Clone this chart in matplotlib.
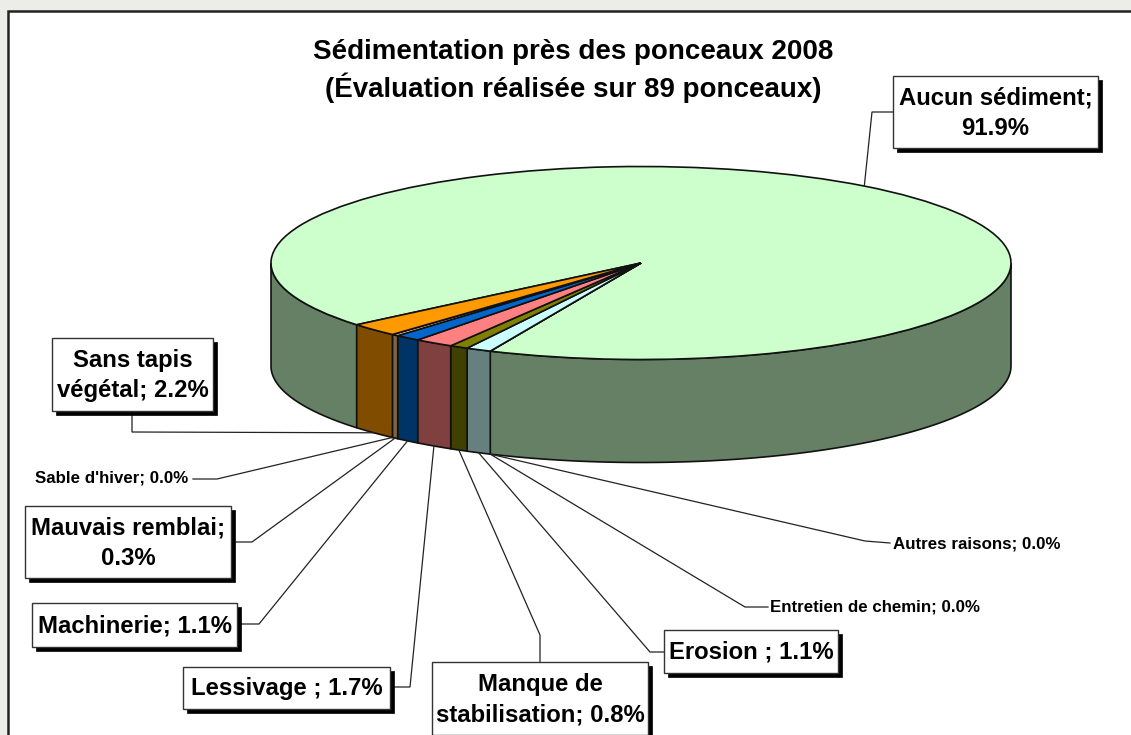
import matplotlib

matplotlib.use("Agg")
import matplotlib.pyplot as plt
import numpy as np
from matplotlib.patches import Rectangle

W, H = 1131, 735

# clockwise from the big slice
names = ["Aucun sédiment", "Autres raisons", "Entretien de chemin", "Erosion ",
         "Manque de stabilisation", "Lessivage ", "Machinerie", "Mauvais remblai",
         "Sable d'hiver", "Sans tapis végétal"]
values = [91.9, 0.0, 0.0, 1.1, 0.8, 1.7, 1.1, 0.3, 0.0, 2.2]
top_colors = ["#CCFFCC", "#CCFFFF", "#CCFFFF", "#CCFFFF", "#808000", "#FF8080",
              "#0066CC", "#FFCC99", "#FFCC99", "#FF9900"]
side_colors = ["#668066", "#668080", "#668080", "#668080", "#404000", "#804040",
               "#003366", "#806640", "#806640", "#804D00"]
title = "Sédimentation près des ponceaux 2008\n(Évaluation réalisée sur 89 ponceaux)"

# pie geometry in pixels
cx, cy, rx, ry, depth = 641, 263, 370, 96.5, 103
start = 50.2  # degrees clockwise from the bottom of the ellipse

fracs = np.array(values) / sum(values) * 360
edges = start + np.concatenate([[0], np.cumsum(fracs)])

fig = plt.figure(figsize=(W / 100, H / 100), dpi=100, facecolor="#ECEDE8")
plt.rcParams["font.family"] = ["Liberation Sans", "DejaVu Sans"]

# page frame
back = fig.add_axes([0, 0, 1, 1], zorder=0)
back.set_xlim(0, W)
back.set_ylim(H, 0)
back.axis("off")
back.add_patch(Rectangle((8, 11), 1140, 740, fc="white", ec="#222222", lw=1.8))

pie_ax = fig.add_axes(
    [(cx - rx) / W, 1 - (cy + ry) / H, 2 * rx / W, 2 * ry / H], zorder=1
)
pie_ax.pie(
    values,
    colors=top_colors,
    startangle=270 - start,
    counterclock=False,
    wedgeprops={"edgecolor": "#111111", "linewidth": 1.2, "zorder": 5},
)
pie_ax.set_aspect("auto")
pie_ax.set_xlim(-1, 1)
pie_ax.set_ylim(-1, 1)
pie_ax.axis("off")

ax = fig.add_axes([0, 0, 1, 1], zorder=3)
ax.set_xlim(0, W)
ax.set_ylim(H, 0)
ax.axis("off")


def rim(t):
    t = np.radians(t)
    return -np.sin(t), -np.cos(t)


# side walls, only the part facing the viewer
d = depth / ry
for i in range(len(values)):
    for k in (0, 360):
        a = max(edges[i], k - 90)
        b = min(edges[i + 1], k + 90)
        if b <= a:
            continue
        xs, ys = rim(np.linspace(a, b, 80))
        px = np.concatenate([xs, xs[::-1]])
        py = np.concatenate([ys, ys[::-1] - d])
        pie_ax.fill(px, py, fc=side_colors[i], ec="#111111", lw=1.2,
                    clip_on=False, zorder=2)


def anchor(i, drop=depth):
    # rim point at the middle of the slice
    x, y = rim((edges[i] + edges[i + 1]) / 2)
    return cx + rx * x, cy - ry * y + drop


def box(x0, y0, x1, y1, text):
    ax.add_patch(Rectangle((x0 + 4, y0 + 4), x1 - x0, y1 - y0, fc="black", ec="black", lw=0.5, zorder=4))
    ax.add_patch(Rectangle((x0, y0), x1 - x0, y1 - y0, fc="white", ec="#333333", lw=1, zorder=5))
    ax.text((x0 + x1) / 2, (y0 + y1) / 2 + 1, text, ha="center", va="center",
            fontsize=17.2, fontweight="bold", linespacing=1.42, color="black", zorder=6)


def leader(i, *pts, drop=depth):
    p0 = anchor(i, drop)
    xs = [p[0] for p in pts] + [p0[0]]
    ys = [p[1] for p in pts] + [p0[1]]
    ax.plot(xs, ys, color="#222222", lw=0.9, zorder=3, solid_joinstyle="miter")


def label(i):
    return f"{names[i]}; {values[i]:.1f}%"


def small(x, y, i):
    ax.text(x, y, label(i), ha="left", va="center", fontsize=12.2, fontweight="bold")


ax.text(573, 71, title, ha="center", va="center", fontsize=20, fontweight="bold",
        linespacing=1.3, color="black")

# big slice: leader leaves the back rim
leader(0, (895, 112), (872, 112), drop=0)
box(893, 76, 1098, 148, "Aucun sédiment;\n91.9%")

leader(9, (132, 405), (132, 432))
box(52, 338, 213, 411, "Sans tapis\nvégétal; 2.2%")

leader(8, (193, 479), (217, 479))
small(35, 478, 8)

leader(7, (230, 542), (252, 542))
box(25, 506, 231, 578, "Mauvais remblai;\n0.3%")

leader(6, (235, 624), (259, 624))
box(32, 603, 237, 647, label(6))

leader(5, (388, 687), (410, 687))
box(183, 667, 390, 709, label(5))

leader(4, (540, 664), (540, 635))
box(432, 662, 648, 735, "Manque de\nstabilisation; 0.8%")

leader(3, (667, 652), (650, 652))
box(664, 630, 838, 673, label(3))

leader(2, (768, 607), (745, 607))
small(770, 607, 2)

leader(1, (890, 543), (865, 541))
small(893, 544, 1)

fig.savefig("out.png", dpi=100, facecolor=fig.get_facecolor())
plt.close(fig)
